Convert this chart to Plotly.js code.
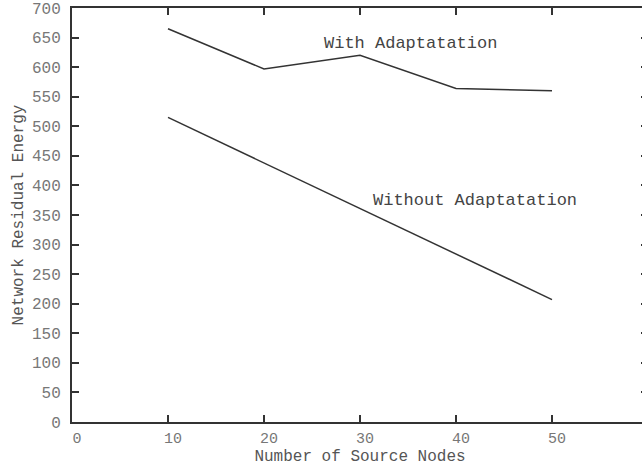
<!DOCTYPE html>
<html><head><meta charset="utf-8">
<script src="https://cdn.plot.ly/plotly-3.0.1.min.js"></script>
<style>html,body{margin:0;padding:0;overflow:hidden;background:#fff;width:642px;height:466px}</style>
</head><body><div id="chart" style="width:660px;height:466px"></div>
<script>
const nodes = [10, 20, 30, 40, 50];
const withAdapt = [665, 597, 620, 564, 560];
const withoutAdapt = [515, 438, 361, 284, 207];
const xTicks = [0, 10, 20, 30, 40, 50, 60];
const xTickText = ['0', '10', '20', '30', '40', '50', ''];
const yTicks = [0, 50, 100, 150, 200, 250, 300, 350, 400, 450, 500, 550, 600, 650, 700];

const font = 'Liberation Mono, Courier New, monospace';
const lineStyle = {color: '#333', width: 1.5};
const traces = [
  {x: nodes, y: withAdapt, mode: 'lines', line: lineStyle, name: 'With Adaptatation'},
  {x: nodes, y: withoutAdapt, mode: 'lines', line: lineStyle, name: 'Without Adaptatation'}
];
const axisCommon = {
  showgrid: false, zeroline: false, showline: true, linewidth: 2, linecolor: '#333',
  mirror: 'ticks', ticks: 'inside', ticklen: 7, tickwidth: 2, tickcolor: '#333',
  tickfont: {family: font, size: 15, color: '#777'}
};
const layout = {
  width: 660, height: 466,
  margin: {l: 72, r: 12, t: 8, b: 44},
  paper_bgcolor: '#fff', plot_bgcolor: '#fff',
  showlegend: false,
  xaxis: Object.assign({}, axisCommon, {
    range: [0, 60], tickvals: xTicks, ticktext: xTickText, ticklabelstandoff: 1, ticklabelshift: 5,
    title: {text: 'Number of Source Nodes', font: {family: font, size: 16, color: '#555'}, standoff: 0}
  }),
  yaxis: Object.assign({}, axisCommon, {
    range: [0, 700], tickvals: yTicks, ticklabelstandoff: 6,
    tickfont: {family: font, size: 16, color: '#777'},
    title: {text: 'Network Residual Energy', font: {family: font, size: 16, color: '#555'}, standoff: 4}
  }),
  annotations: [
    {xref: 'x', yref: 'y', x: 35.3, y: 640, text: 'With Adaptatation', showarrow: false,
     font: {family: font, size: 17, color: '#444'}},
    {xref: 'x', yref: 'y', x: 42.0, y: 375, text: 'Without Adaptatation', showarrow: false,
     font: {family: font, size: 17, color: '#444'}}
  ]
};
Plotly.newPlot('chart', traces, layout, {displayModeBar: false, staticPlot: true});
</script></body></html>
